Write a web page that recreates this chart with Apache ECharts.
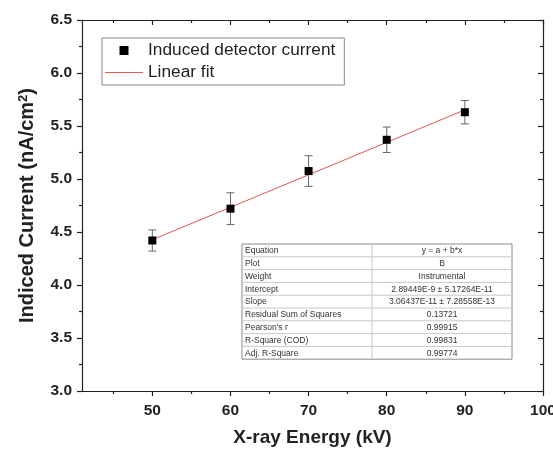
<!DOCTYPE html>
<html>
<head>
<meta charset="utf-8">
<script src="https://cdn.jsdelivr.net/npm/echarts@6/dist/echarts.min.js"></script>
<style>
  html, body { margin: 0; padding: 0; background: #fff; }
  #chart { width: 553px; height: 454px; }
</style>
</head>
<body>
<div id="chart"></div>
<script>
// X-ray energy (kV)
var energy = [50, 60, 70, 80, 90];
// induced current (nA/cm2) and half length of the error bars
var current = [4.42, 4.72, 5.075, 5.37, 5.63];
var currentErr = [0.10, 0.15, 0.145, 0.12, 0.11];
// linear fit, read at both ends
var fitX = [50, 90];
var fitY = [4.427, 5.652];

var xTicks = [50, 60, 70, 80, 90, 100];
var xMinorTicks = [45, 55, 65, 75, 85, 95];

// fit results table
var tableLabels = ['Equation', 'Plot', 'Weight', 'Intercept', 'Slope', 'Residual Sum of Squares', "Pearson's r", 'R-Square (COD)', 'Adj. R-Square'];
var tableValues = ['y = a + b*x', 'B', 'Instrumental', '2.89449E-9 \u00b1 5.17264E-11', '3.06437E-11 \u00b1 7.28558E-13', '0.13721', '0.99915', '0.99831', '0.99774'];

var font = 'Liberation Sans, Arial, sans-serif';
var axisColor = '#222';

var chart = echarts.init(document.getElementById('chart'));

var errData = energy.map(function (x, i) {
    return [x, current[i] - currentErr[i], current[i] + currentErr[i]];
});
var pointData = energy.map(function (x, i) { return [x, current[i]]; });
var fitData = fitX.map(function (x, i) { return [x, fitY[i]]; });

function renderErr(params, api) {
    var lo = api.coord([api.value(0), api.value(1)]);
    var hi = api.coord([api.value(0), api.value(2)]);
    var cap = 4;
    var st = { stroke: '#666', lineWidth: 1 };
    return {
        type: 'group',
        children: [
            { type: 'line', shape: { x1: hi[0], y1: hi[1], x2: lo[0], y2: lo[1] }, style: st },
            { type: 'line', shape: { x1: hi[0] - cap, y1: hi[1], x2: hi[0] + cap, y2: hi[1] }, style: st },
            { type: 'line', shape: { x1: lo[0] - cap, y1: lo[1], x2: lo[0] + cap, y2: lo[1] }, style: st }
        ]
    };
}

// table drawn with graphic elements
var tbl = { x: 242, y: 244, w: 270, rowH: 12.8, split: 130 };
var tableEls = [{
    type: 'rect',
    shape: { x: tbl.x, y: tbl.y, width: tbl.w, height: tbl.rowH * tableLabels.length },
    style: { fill: '#fff', stroke: '#8a8a8a', lineWidth: 1 }
}, {
    type: 'line',
    shape: { x1: tbl.x + tbl.split, y1: tbl.y, x2: tbl.x + tbl.split, y2: tbl.y + tbl.rowH * tableLabels.length },
    style: { stroke: '#c8c8c8', lineWidth: 1 }
}];
tableLabels.forEach(function (lab, i) {
    var y = tbl.y + i * tbl.rowH;
    if (i > 0) {
        tableEls.push({ type: 'line', shape: { x1: tbl.x, y1: y, x2: tbl.x + tbl.w, y2: y }, style: { stroke: '#c8c8c8', lineWidth: 1 } });
    }
    tableEls.push({ type: 'text', x: tbl.x + 3, y: y + tbl.rowH / 2 + 0.5,
        style: { text: lab, fontSize: 8.5, fontFamily: font, fill: '#333', verticalAlign: 'middle' } });
    tableEls.push({ type: 'text', x: tbl.x + tbl.split + (tbl.w - tbl.split) / 2, y: y + tbl.rowH / 2 + 0.5,
        style: { text: tableValues[i], fontSize: 8.5, fontFamily: font, fill: '#333', align: 'center', verticalAlign: 'middle' } });
});

var tickLabel = { fontSize: 15.5, fontWeight: 'bold', color: axisColor, fontFamily: font };
var lineSt = { color: axisColor, width: 1.2 };

var option = {
    backgroundColor: '#fff',
    animation: false,
    grid: { left: 82, right: 10, top: 20, bottom: 63, outerBoundsMode: 'none', containLabel: false },
    legend: {
        left: 102, top: 38, orient: 'vertical',
        padding: [4, 9, 4, 3],
        itemWidth: 38, itemHeight: 9, itemGap: 5,
        borderColor: '#888', borderWidth: 1,
        textStyle: { fontSize: 17.3, color: '#222', fontFamily: font },
        data: [
            { name: 'Induced detector current', icon: 'path://M0,0H10V10H0Z' },
            { name: 'Linear fit', icon: 'path://M0,0H38V1H0Z' }
        ]
    },
    xAxis: [{
        type: 'value', min: 41, max: 100, position: 'bottom',
        axisLine: { lineStyle: lineSt },
        axisTick: { customValues: xTicks, length: 5, lineStyle: lineSt },
        axisLabel: Object.assign({ customValues: xTicks, margin: 12 }, tickLabel),
        splitLine: { show: false },
        name: 'X-ray Energy (kV)', nameLocation: 'middle', nameGap: 37,
        nameTextStyle: { fontSize: 19, fontWeight: 'bold', color: axisColor, fontFamily: font }
    }, {
        type: 'value', min: 41, max: 100, position: 'top',
        axisLine: { lineStyle: lineSt },
        axisTick: { customValues: xTicks, inside: true, length: 5, lineStyle: lineSt },
        axisLabel: { show: false },
        splitLine: { show: false }
    }, {
        type: 'value', min: 41, max: 100, position: 'bottom',
        axisLine: { show: false },
        axisTick: { customValues: xMinorTicks, length: 3, lineStyle: lineSt },
        axisLabel: { show: false },
        splitLine: { show: false }
    }, {
        type: 'value', min: 41, max: 100, position: 'top',
        axisLine: { show: false },
        axisTick: { customValues: xMinorTicks, inside: true, length: 3, lineStyle: lineSt },
        axisLabel: { show: false },
        splitLine: { show: false }
    }],
    yAxis: [{
        type: 'value', min: 3, max: 6.5, interval: 0.5, position: 'left',
        axisLine: { show: true, lineStyle: lineSt },
        axisTick: { show: true, length: 5, lineStyle: lineSt },
        minorTick: { show: true, splitNumber: 2, length: 3, lineStyle: lineSt },
        axisLabel: Object.assign({ margin: 10, formatter: function (v) { return v.toFixed(1); } }, tickLabel),
        splitLine: { show: false },
        name: 'Indiced Current (nA/cm{sup|2})', nameLocation: 'middle', nameGap: 44,
        nameTextStyle: {
            fontSize: 20, fontWeight: 'bold', color: axisColor, fontFamily: font,
            rich: { sup: { fontSize: 13, fontWeight: 'bold', color: axisColor, fontFamily: font, verticalAlign: 'top', padding: [0, 0, 8, 0] } }
        }
    }, {
        type: 'value', min: 3, max: 6.5, interval: 0.5, position: 'right',
        axisLine: { show: true, lineStyle: lineSt },
        axisTick: { show: true, inside: true, length: 5, lineStyle: lineSt },
        minorTick: { show: true, splitNumber: 2, length: 3, lineStyle: lineSt },
        axisLabel: { show: false },
        splitLine: { show: false }
    }],
    graphic: [{ type: 'group', z: 10, children: tableEls }],
    series: [{
        name: 'Linear fit', type: 'line',
        data: fitData, symbol: 'none',
        lineStyle: { color: '#e35555', width: 1 },
        itemStyle: { color: '#e35555' },
        z: 2
    }, {
        type: 'custom', renderItem: renderErr,
        data: errData, encode: { x: 0, y: [1, 2] },
        z: 3
    }, {
        name: 'Induced detector current', type: 'scatter',
        data: pointData, symbol: 'rect', symbolSize: 8,
        itemStyle: { color: '#000', opacity: 1 },
        z: 4
    }]
};

chart.setOption(option);
</script>
</body>
</html>
